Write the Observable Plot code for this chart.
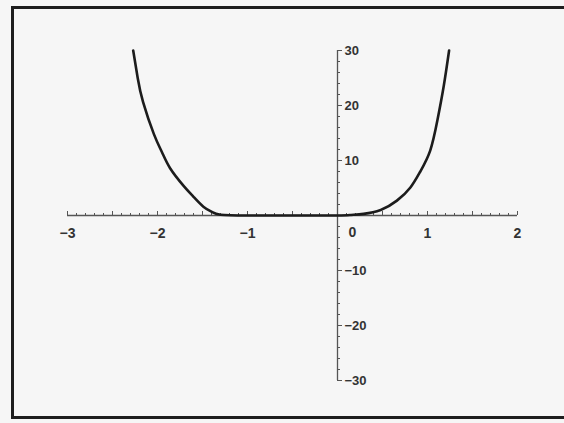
<!DOCTYPE html>
<html>
<head>
<meta charset="utf-8">
<script src="https://cdn.jsdelivr.net/npm/d3@7"></script>
<script src="https://cdn.jsdelivr.net/npm/@observablehq/plot@0.6"></script>
<style>
  html, body { margin: 0; padding: 0; background: #ffffff; overflow: hidden; }
  #wrap { position: relative; width: 564px; height: 423px; overflow: hidden; }
  #wrap svg { display: block; }
  .edge { position: absolute; background: #1e1e1e; pointer-events: none; }
  #edgeLeft { left: 11px; top: 6px; width: 3px; height: 413px; }
  #edgeTop { left: 11px; top: 6px; width: 553px; height: 3px; }
  #edgeBottom { left: 11px; top: 416px; width: 553px; height: 3px; }
</style>
</head>
<body>
<div id="wrap"><div class="edge" id="edgeLeft"></div><div class="edge" id="edgeTop"></div><div class="edge" id="edgeBottom"></div></div>
<script>
// Curve readings from the picture
const xValues = [-2.27, -2.22, -2.16, -2.04, -1.95, -1.86, -1.71, -1.60, -1.49, -1.40, -1.30, -1.00, -0.50, 0.00, 0.15, 0.29, 0.48, 0.66, 0.81, 0.92, 1.03, 1.11, 1.18, 1.24];
const yValues = [30, 25, 20.6, 14.8, 11.5, 8.6, 5.4, 3.4, 1.6, 0.7, 0.15, 0, 0, 0, 0.1, 0.3, 1.0, 2.7, 5.1, 8.0, 11.8, 17.3, 23.5, 30];

// Axis tick labels
const xTickLabels = [-3, -2, -1, 0, 1, 2];
const yTickLabels = [30, 20, 10, -10, -20, -30];
const xDomain = [-3, 2];
const yDomain = [-30, 30];

const points = xValues.map((x, i) => ({x, y: yValues[i]}));
const xMinor = d3.range(-30, 21).map(d => d / 10);
const xMajor = d3.range(-6, 5).map(d => d / 2);
const yMinor = d3.range(-15, 16).map(d => d * 2);
const fmt = d => d < 0 ? "\u2212" + Math.abs(d) : String(d);

const chart = Plot.plot({
  width: 564,
  height: 423,
  marginLeft: 67,
  marginRight: 47,
  marginTop: 50,
  marginBottom: 43,
  x: {domain: xDomain, axis: null},
  y: {domain: yDomain, axis: null},
  style: {background: "#f6f6f6", fontFamily: "Liberation Sans, Arial, sans-serif"},
  marks: [
    Plot.ruleY([0], {x1: xDomain[0], x2: xDomain[1], stroke: "#555", strokeWidth: 1.3}),
    Plot.ruleX(xMinor, {x: d => d, y1: 0, y2: 0, insetTop: -2, stroke: "#555", strokeWidth: 1}),
    Plot.ruleX(xMajor, {x: d => d, y1: 0, y2: 0, insetTop: -4, stroke: "#555", strokeWidth: 1}),
    Plot.ruleX([0], {y1: yDomain[0], y2: yDomain[1], stroke: "#555", strokeWidth: 1.3}),
    Plot.ruleY(yMinor, {y: d => d, x1: 0, x2: 0, insetRight: -3, stroke: "#555", strokeWidth: 1}),
    Plot.ruleY(yTickLabels, {y: d => d, x1: 0, x2: 0, insetRight: -5, stroke: "#555", strokeWidth: 1}),
    Plot.text(xTickLabels.filter(d => d !== 0), {x: d => d, y: 0, dy: 18, text: d => fmt(d),
      fontSize: 14, fontWeight: "bold", fill: "#333"}),
    Plot.text([0], {x: d => d, y: 0, dy: 17, dx: 15, text: d => fmt(d),
      fontSize: 14, fontWeight: "bold", fill: "#333"}),
    Plot.text(yTickLabels, {x: 0, y: d => d, dx: 7, textAnchor: "start", text: d => fmt(d),
      fontSize: 13, fontWeight: "bold", fill: "#333"}),
    Plot.line(points, {x: "x", y: "y", curve: "natural", stroke: "#1c1c1c", strokeWidth: 2.6})
  ]
});
document.getElementById("wrap").prepend(chart);
</script>
</body>
</html>
